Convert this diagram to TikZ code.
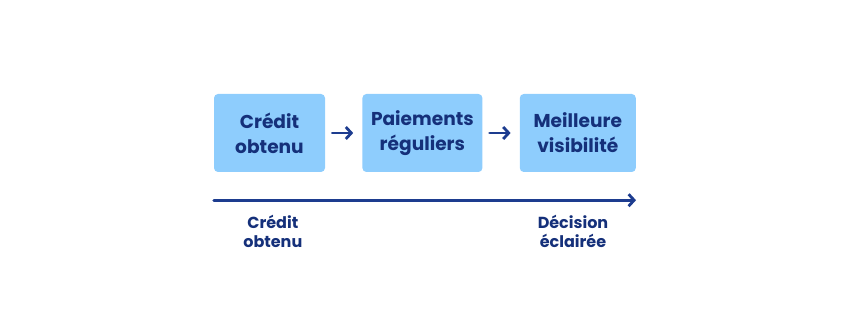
\documentclass[tikz,border=0pt]{standalone}
\usepackage{fontspec}
\setmainfont{Poppins}
\usepackage{tikz}
\usepackage{xcolor}
\usetikzlibrary{arrows.meta,positioning,calc}
\definecolor{credblue}{HTML}{8ECDFD}
\definecolor{crednavy}{HTML}{15307A}
\definecolor{credarrow}{HTML}{1D3C8F}
\tikzset{
  stepbox/.style={fill=credblue, rounded corners=4pt, align=center, inner sep=4pt, minimum height=78pt, font=\fontsize{18.6}{25}\selectfont\bfseries, text=crednavy},
  flow/.style={-{Straight Barb[length=5.5pt,width=12pt]}, line width=2.8pt, line cap=round, draw=credarrow},
  info/.style={font=\fontsize{16}{19.5}\selectfont\bfseries, align=center, text=crednavy}
}
\begin{document}
\begin{tikzpicture}[x=1pt,y=1pt,node distance=37pt]
  \useasboundingbox (0,0) rectangle (851,-315);
  \node[stepbox, minimum width=111pt] (credit) at (269.5,-133) {Crédit\\obtenu};
  \node[stepbox, minimum width=120pt, right=of credit] (paiements) {Paiements\\réguliers};
  \node[stepbox, minimum width=116pt, right=of paiements] (visibilite) {Meilleure\\visibilité};
  \draw[flow] ([xshift=7pt]credit.east) -- ([xshift=-9pt]paiements.west);
  \draw[flow] ([xshift=7pt]paiements.east) -- ([xshift=-9pt]visibilite.west);
  % ligne du temps
  \coordinate (debut) at ($(credit.south west)+(0,-28)$);
  \coordinate (fin) at ($(visibilite.south east)+(0,-28)$);
  \draw[flow] (debut) -- (fin);
  \node[info, below=11pt of debut, xshift=59pt] (depart) {Crédit\\obtenu};
  \node[info, below=11pt of fin, xshift=-63pt] (decision) {Décision\\éclairée};
\end{tikzpicture}
\end{document}
